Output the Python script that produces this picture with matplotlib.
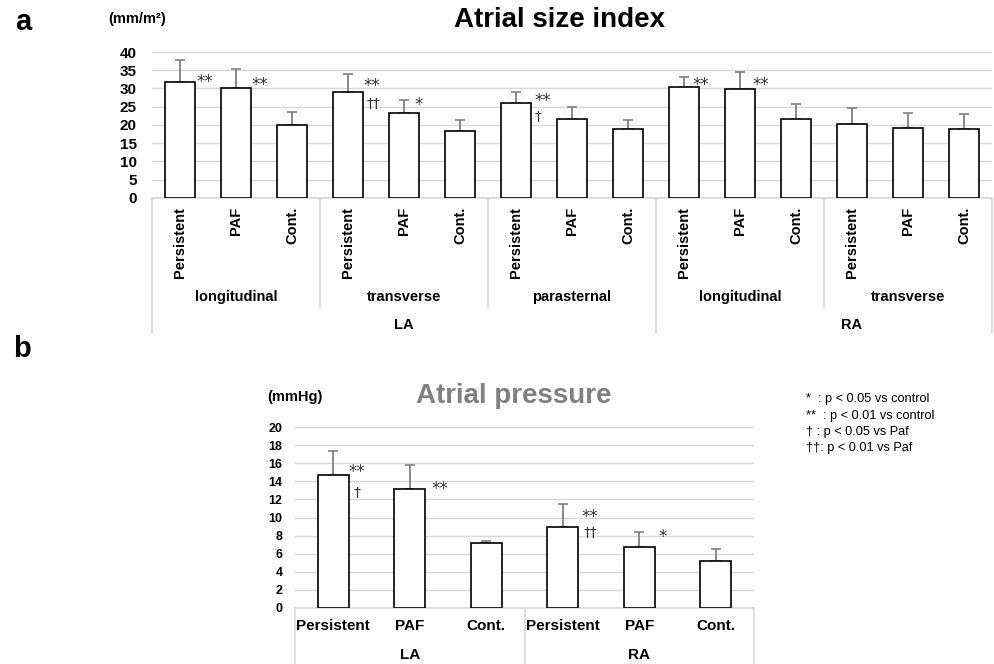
import numpy as np
import matplotlib
matplotlib.use('Agg')
import matplotlib.pyplot as plt

plt.rcParams['font.family'] = ['Liberation Sans', 'DejaVu Sans']

# panel a : atrial size index (mm/m2)
groups_a = ['Persistent', 'PAF', 'Cont.']
views_a = ['longitudinal', 'transverse', 'parasternal', 'longitudinal', 'transverse']
chambers_a = ['LA', 'RA']
size_mean = [31.8, 30.1, 20.0, 29.0, 23.4, 18.4, 25.9, 21.6, 19.0,
             30.5, 29.9, 21.6, 20.2, 19.3, 19.0]
size_sd = [6.1, 5.2, 3.6, 5.0, 3.5, 3.0, 3.2, 3.3, 2.5,
           2.7, 4.6, 4.2, 4.4, 4.1, 3.9]
stars_a = ['**', '**', '', '**', '*', '', '**', '', '', '**', '**', '', '', '', '']
dagger_a = ['', '', '', '††', '', '', '†', '', '', '', '', '', '', '', '']

# panel b : atrial pressure (mmHg)
groups_b = ['Persistent', 'PAF', 'Cont.']
chambers_b = ['LA', 'RA']
pres_mean = [14.7, 13.1, 7.2, 8.9, 6.7, 5.2]
pres_sd = [2.6, 2.7, 0.2, 2.6, 1.7, 1.3]
stars_b = ['**', '**', '', '**', '*', '']
dagger_b = ['†', '', '', '††', '', '']

legend_lines = ['*  : p < 0.05 vs control',
                '**  : p < 0.01 vs control',
                '† : p < 0.05 vs Paf',
                '††: p < 0.01 vs Paf']

# where the significance marks sit next to each bar (dx in bars, dy in axis units)
star_off_a = [(0.45, 0.0), (0.43, 0.8), (0, 0), (0.43, 1.7), (0.27, 2.2), (0, 0),
              (0.48, 0.8), (0, 0), (0, 0), (0.30, 0.55), (0.38, 1.1),
              (0, 0), (0, 0), (0, 0), (0, 0)]
dag_off_a = [(0, 0)] * 3 + [(0.45, -3.2)] + [(0, 0)] * 2 + [(0.39, -3.8)] + [(0, 0)] * 8
star_off_b = [(0.31, 0.33), (0.39, 0.0), (0, 0), (0.36, 1.2), (0.31, 1.1), (0, 0)]
dag_off_b = [(0.31, -2.0), (0, 0), (0, 0), (0.36, -0.6), (0, 0), (0, 0)]

W, H = 994, 664
fig = plt.figure(figsize=(W / 100, H / 100), dpi=100)

def px(x, y):
    return x / W, 1 - y / H

gridc = '#d9d9d9'
errc = '#808080'
markc = '#333333'


def draw_bars(ax, means, sds, width, ymax, step, tsize):
    x = np.arange(len(means))
    ax.bar(x, means, width=width, color='white', edgecolor='black', linewidth=1.2, zorder=3)
    ax.errorbar(x, means, yerr=[np.zeros(len(sds)), sds], fmt='none', ecolor=errc,
                elinewidth=1.3, capsize=3.5, capthick=1.2, zorder=2)
    ax.set_xlim(-0.5, len(means) - 0.5)
    ax.set_ylim(0, ymax)
    ax.set_yticks(np.arange(0, ymax + 1, step))
    ax.yaxis.grid(True, color=gridc, linewidth=1, zorder=0)
    ax.set_axisbelow(True)
    for s in ['top', 'right', 'left']:
        ax.spines[s].set_visible(False)
    ax.spines['bottom'].set_color(gridc)
    ax.spines['bottom'].set_linewidth(1.2)
    ax.set_xticks([])
    ax.tick_params(axis='y', length=0, labelsize=tsize)
    for t in ax.get_yticklabels():
        t.set_fontweight('bold')
    return x


def vline(ax, xv, ybot):
    ax.plot([xv, xv], [0, ybot], color=gridc, linewidth=1.2,
            transform=ax.get_xaxis_transform(), clip_on=False)


def marks(ax, x, means, stars, daggers, soff, doff):
    for i in range(len(x)):
        if stars[i]:
            ax.text(x[i] + soff[i][0], means[i] + soff[i][1], stars[i], ha='center',
                    va='center', fontsize=12, family='DejaVu Sans', color=markc)
        if daggers[i]:
            ax.text(x[i] + doff[i][0], means[i] + doff[i][1], daggers[i], ha='center',
                    va='center', fontsize=10, family='DejaVu Sans', color=markc)


# ---------- panel a ----------
axa = fig.add_axes([152 / W, 1 - 198 / H, 840 / W, 146 / H])
xa = draw_bars(axa, size_mean, size_sd, 0.52, 40, 5, 11)
axa.tick_params(axis='y', pad=11)

for i in range(len(xa)):
    axa.text(xa[i], -0.06, groups_a[i % 3], rotation=90, ha='center', va='top',
             fontsize=10.5, fontweight='bold', transform=axa.get_xaxis_transform())
marks(axa, xa, size_mean, stars_a, dagger_a, star_off_a, dag_off_a)

for k, v in enumerate(views_a):
    axa.text(3 * k + 1, -0.68, v, ha='center', va='center', fontsize=10.5,
             fontweight='bold', transform=axa.get_xaxis_transform())
axa.text(4, -0.87, chambers_a[0], ha='center', va='center', fontsize=10.5,
         fontweight='bold', transform=axa.get_xaxis_transform())
axa.text(12, -0.87, chambers_a[1], ha='center', va='center', fontsize=10.5,
         fontweight='bold', transform=axa.get_xaxis_transform())
for xv in [2.5, 5.5, 11.5]:
    vline(axa, xv, -0.75)
for xv in [-0.5, 8.5, 14.5]:
    vline(axa, xv, -0.925)

fig.text(*px(560, 20), 'Atrial size index', ha='center', va='center',
         fontsize=20, fontweight='bold')
fig.text(*px(108, 19), '(mm/m²)', ha='left', va='center', fontsize=10.5, fontweight='bold')
fig.text(*px(23, 22), 'a', ha='center', va='center', fontsize=21, fontweight='bold')

# ---------- panel b ----------
axb = fig.add_axes([295 / W, 1 - 608 / H, 459 / W, 181 / H])
xb = draw_bars(axb, pres_mean, pres_sd, 0.41, 20, 2, 9)
axb.tick_params(axis='y', pad=9)

for i in range(len(xb)):
    axb.text(xb[i], -0.1, groups_b[i % 3], ha='center', va='center',
             fontsize=11, fontweight='bold', transform=axb.get_xaxis_transform())
marks(axb, xb, pres_mean, stars_b, dagger_b, star_off_b, dag_off_b)
axb.text(1, -0.26, chambers_b[0], ha='center', va='center', fontsize=11,
         fontweight='bold', transform=axb.get_xaxis_transform())
axb.text(4, -0.26, chambers_b[1], ha='center', va='center', fontsize=11,
         fontweight='bold', transform=axb.get_xaxis_transform())
for xv in [-0.5, 2.5, 5.5]:
    vline(axb, xv, -0.32)

fig.text(*px(514, 396), 'Atrial pressure', ha='center', va='center',
         fontsize=20, fontweight='bold', color='#808080')
fig.text(*px(267, 397), '(mmHg)', ha='left', va='center', fontsize=10.5, fontweight='bold')
fig.text(*px(22, 349), 'b', ha='center', va='center', fontsize=21, fontweight='bold')

for j, line in enumerate(legend_lines):
    fig.text(*px(806, 399 + 16.5 * j), line, ha='left', va='center', fontsize=9.2)

fig.savefig('out.png', dpi=100)
